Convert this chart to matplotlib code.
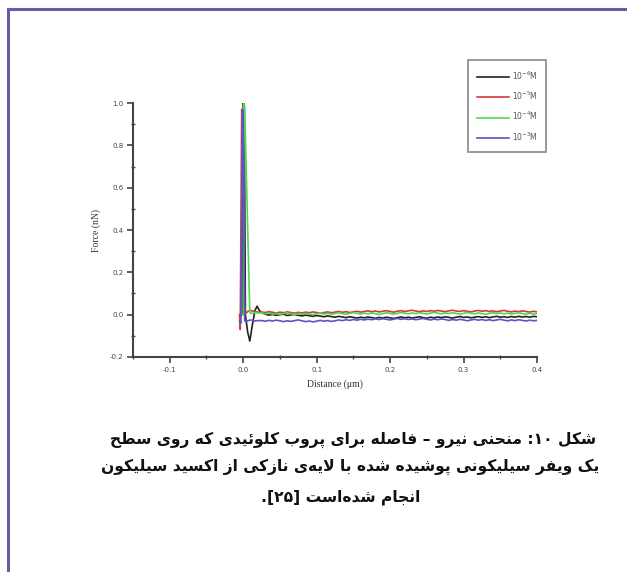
import re

import numpy as np
import matplotlib
matplotlib.use('Agg')
import matplotlib.pyplot as plt
from matplotlib.lines import Line2D
from matplotlib.ticker import MultipleLocator

# legend labels
labels = ['$10^{-6}$M', '$10^{-5}$M', '$10^{-4}$M', '$10^{-3}$M']
colors = ['#222222', '#d63a3a', '#4fd84f', '#5a55c8']

# spike region of each curve (x in um, force in nN)
black_x = [-0.004, -0.001, 0.0, 0.0015, 0.003, 0.006, 0.009, 0.012, 0.016, 0.019, 0.022]
black_y = [0.0, 0.0, 1.0, 0.99, 0.0, -0.08, -0.125, -0.06, 0.02, 0.04, 0.02]
red_x = [-0.005, -0.004, -0.002, -0.001, 0.002, 0.006, 0.01, 0.015, 0.02]
red_y = [0.0, -0.07, 0.97, 0.9, 0.0, 0.015, 0.02, 0.015, 0.012]
green_x = [-0.002, 0.0, 0.001, 0.002, 0.009, 0.012, 0.016, 0.02]
green_y = [0.0, 0.0, 1.0, 0.98, 0.01, 0.005, 0.01, 0.008]
blue_x = [-0.005, -0.003, -0.001, 0.0, 0.002, 0.005, 0.01, 0.015, 0.02]
blue_y = [-0.03, -0.04, 0.97, 0.96, -0.03, -0.03, -0.025, -0.03, -0.028]

# flat part, sampled every 0.005 um from 0.025 to 0.4
tail_x = np.linspace(0.025, 0.4, 76)
black_tail = [
    0.010, 0.002, -0.002, 0.001, -0.003, 0.000, 0.002, -0.004, -0.001, 0.001,
    -0.003, -0.006, -0.002, -0.005, -0.008, -0.004, -0.007, -0.010, -0.006, -0.009,
    -0.012, -0.008, -0.011, -0.014, -0.010, -0.013, -0.016, -0.012, -0.015, -0.011,
    -0.014, -0.017, -0.013, -0.016, -0.012, -0.015, -0.018, -0.014, -0.011, -0.015,
    -0.012, -0.016, -0.013, -0.010, -0.014, -0.017, -0.012, -0.015, -0.011, -0.014,
    -0.010, -0.013, -0.016, -0.012, -0.009, -0.013, -0.011, -0.015, -0.012, -0.009,
    -0.013, -0.010, -0.014, -0.011, -0.008, -0.012, -0.010, -0.013, -0.009, -0.012,
    -0.008, -0.011, -0.009, -0.012, -0.008, -0.010]
red_tail = [
    0.012, 0.010, 0.014, 0.011, 0.008, 0.012, 0.009, 0.013, 0.010, 0.007,
    0.011, 0.008, 0.012, 0.009, 0.013, 0.010, 0.006, 0.010, 0.013, 0.009,
    0.012, 0.015, 0.011, 0.014, 0.010, 0.013, 0.016, 0.012, 0.015, 0.018,
    0.014, 0.017, 0.013, 0.016, 0.019, 0.015, 0.012, 0.016, 0.019, 0.015,
    0.018, 0.021, 0.017, 0.014, 0.018, 0.015, 0.019, 0.016, 0.020, 0.017,
    0.014, 0.018, 0.021, 0.017, 0.015, 0.019, 0.016, 0.013, 0.017, 0.020,
    0.016, 0.019, 0.015, 0.018, 0.014, 0.017, 0.020, 0.016, 0.013, 0.017,
    0.014, 0.018, 0.015, 0.012, 0.016, 0.013]
green_tail = [
    0.008, 0.004, 0.007, 0.003, 0.006, 0.002, 0.005, 0.008, 0.004, 0.001,
    0.005, 0.002, 0.006, 0.003, 0.000, 0.004, 0.007, 0.003, 0.006, 0.002,
    0.005, 0.009, 0.005, 0.002, 0.006, 0.010, 0.006, 0.003, 0.007, 0.004,
    0.008, 0.005, 0.001, 0.005, 0.009, 0.006, 0.002, 0.006, 0.010, 0.007,
    0.004, 0.008, 0.005, 0.009, 0.006, 0.003, 0.007, 0.011, 0.007, 0.004,
    0.008, 0.005, 0.009, 0.006, 0.002, 0.006, 0.010, 0.007, 0.004, 0.008,
    0.005, 0.002, 0.006, 0.009, 0.005, 0.008, 0.004, 0.007, 0.003, 0.006,
    0.009, 0.005, 0.002, 0.006, 0.003, 0.005]
blue_tail = [
    -0.028, -0.031, -0.027, -0.030, -0.026, -0.029, -0.033, -0.029, -0.032, -0.028,
    -0.025, -0.029, -0.033, -0.030, -0.034, -0.031, -0.027, -0.031, -0.028, -0.032,
    -0.029, -0.025, -0.028, -0.024, -0.027, -0.023, -0.026, -0.022, -0.025, -0.021,
    -0.024, -0.020, -0.023, -0.019, -0.022, -0.025, -0.021, -0.018, -0.022, -0.019,
    -0.023, -0.020, -0.024, -0.021, -0.018, -0.022, -0.025, -0.021, -0.024, -0.020,
    -0.023, -0.027, -0.023, -0.026, -0.022, -0.025, -0.029, -0.025, -0.022, -0.026,
    -0.023, -0.027, -0.024, -0.028, -0.025, -0.022, -0.026, -0.029, -0.025, -0.028,
    -0.024, -0.027, -0.030, -0.026, -0.029, -0.027]

caption = [
    'شکل ۱۰: منحنی نیرو – فاصله برای پروب کلوئیدی که روی سطح',
    'یک ویفر سیلیکونی پوشیده شده با لایه\u200cی نازکی از اکسید سیلیکون',
    'انجام شده\u200cاست [۲۵].',
]

# presentation forms: isolated, final, initial, medial
FORMS = {
    '\u0627': (0xFE8D, 0xFE8E),
    '\u0628': (0xFE8F, 0xFE90, 0xFE91, 0xFE92),
    '\u067E': (0xFB56, 0xFB57, 0xFB58, 0xFB59),
    '\u062A': (0xFE95, 0xFE96, 0xFE97, 0xFE98),
    '\u062C': (0xFE9D, 0xFE9E, 0xFE9F, 0xFEA0),
    '\u062D': (0xFEA1, 0xFEA2, 0xFEA3, 0xFEA4),
    '\u062F': (0xFEA9, 0xFEAA),
    '\u0631': (0xFEAD, 0xFEAE),
    '\u0632': (0xFEAF, 0xFEB0),
    '\u0633': (0xFEB1, 0xFEB2, 0xFEB3, 0xFEB4),
    '\u0634': (0xFEB5, 0xFEB6, 0xFEB7, 0xFEB8),
    '\u0635': (0xFEB9, 0xFEBA, 0xFEBB, 0xFEBC),
    '\u0637': (0xFEC1, 0xFEC2, 0xFEC3, 0xFEC4),
    '\u0641': (0xFED1, 0xFED2, 0xFED3, 0xFED4),
    '\u06A9': (0xFB8E, 0xFB8F, 0xFB90, 0xFB91),
    '\u0644': (0xFEDD, 0xFEDE, 0xFEDF, 0xFEE0),
    '\u0645': (0xFEE1, 0xFEE2, 0xFEE3, 0xFEE4),
    '\u0646': (0xFEE5, 0xFEE6, 0xFEE7, 0xFEE8),
    '\u0647': (0xFEE9, 0xFEEA, 0xFEEB, 0xFEEC),
    '\u0648': (0xFEED, 0xFEEE),
    '\u06CC': (0xFBFC, 0xFBFD, 0xFBFE, 0xFBFF),
    '\u0626': (0xFE89, 0xFE8A, 0xFE8B, 0xFE8C),
}


def dual(c):
    return c in FORMS and len(FORMS[c]) == 4


def shape(text):
    # join letters and put them in visual (left to right) order
    out = []
    i = 0
    while i < len(text):
        c = text[i]
        if c == '\u200c':
            i += 1
            continue
        if c not in FORMS:
            out.append(c)
            i += 1
            continue
        joins_prev = i > 0 and dual(text[i - 1])
        if c == '\u0644' and i + 1 < len(text) and text[i + 1] == '\u0627':
            out.append(chr(0xFEFC if joins_prev else 0xFEFB))
            i += 2
            continue
        nxt = text[i + 1] if i + 1 < len(text) else ''
        joins_next = dual(c) and nxt in FORMS
        f = FORMS[c]
        if joins_prev and joins_next:
            g = f[3]
        elif joins_prev:
            g = f[1]
        elif joins_next:
            g = f[2]
        else:
            g = f[0]
        out.append(chr(g))
        i += 1
    vis = ''.join(reversed(out))
    vis = re.sub('[\u06F0-\u06F9]+', lambda m: m.group(0)[::-1], vis)
    return vis.translate(str.maketrans('[]()', '][)('))


fig = plt.figure(figsize=(6.27, 5.72), dpi=100)
ax = fig.add_axes([0.2121, 0.3759, 0.6444, 0.444])

series = [(black_x, black_y, black_tail), (red_x, red_y, red_tail),
          (green_x, green_y, green_tail), (blue_x, blue_y, blue_tail)]
for (hx, hy, ty), col, lab in zip(series, colors, labels):
    ax.plot(list(hx) + list(tail_x), list(hy) + list(ty), color=col, lw=1.2, label=lab)

ax.set_xlim(-0.15, 0.4)
ax.set_ylim(-0.2, 1.0)
ax.xaxis.set_minor_locator(MultipleLocator(0.05))
ax.yaxis.set_minor_locator(MultipleLocator(0.1))
ax.set_xticks([-0.1, 0.0, 0.1, 0.2, 0.3, 0.4])
ax.set_xticklabels(['-0.1', '0.0', '0.1', '0.2', '0.3', '0.4'])
ax.set_yticks([-0.2, 0.0, 0.2, 0.4, 0.6, 0.8, 1.0])
ax.set_yticklabels(['-0.2', '0.0', '0.2', '0.4', '0.6', '0.8', '1.0'])

for s in ['top', 'right']:
    ax.spines[s].set_visible(False)
for s in ['left', 'bottom']:
    ax.spines[s].set_color('#444444')
    ax.spines[s].set_linewidth(1.5)
ax.tick_params(which='major', direction='out', length=4, width=1.2, color='#444444',
               labelsize=5, labelcolor='#444444', pad=3)
ax.tick_params(which='minor', direction='inout', length=3, width=1.0, color='#444444')

ax.set_xlabel('Distance (μm)', family='Liberation Serif', fontsize=7, color='#333333', labelpad=5)
ax.set_ylabel('Force (nN)', family='Liberation Serif', fontsize=7, color='#333333', labelpad=6)

leg = ax.legend(loc='upper left', bbox_to_anchor=(468 / 627, 1 - 60 / 572),
                bbox_transform=fig.transFigure, fontsize=5.5, frameon=True, fancybox=False,
                edgecolor='#777777', labelspacing=1.05, borderpad=1.2, handlelength=4.2,
                handletextpad=0.3, borderaxespad=0)
leg.get_frame().set_linewidth(1.3)
for t in leg.get_texts():
    t.set_color('#555555')

# page frame
fig.add_artist(Line2D([8 / 627, 1.0], [1 - 9 / 572, 1 - 9 / 572], color='#6a5aa8', lw=2.2))
fig.add_artist(Line2D([8 / 627, 8 / 627], [0.0, 1 - 9 / 572], color='#6a5aa8', lw=2.2))

caption_pos = [(353, 440), (350, 467), (341, 497)]
for line, (px, py) in zip(caption, caption_pos):
    fig.text(px / 627, 1 - py / 572, shape(line), family=['DejaVu Sans'], weight='bold',
             fontsize=11.2, ha='center', va='center', color='#111111')

fig.savefig('out.png', dpi=100)
